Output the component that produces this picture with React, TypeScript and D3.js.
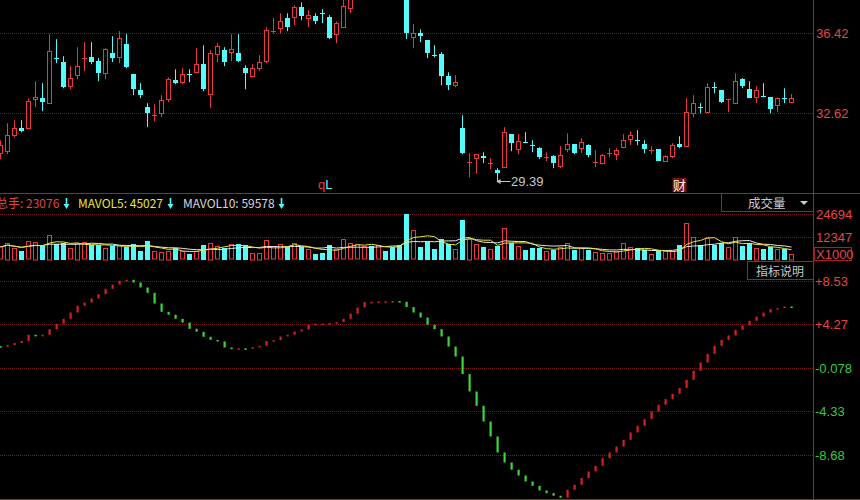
import React from 'react';
import * as d3 from 'd3';

const opens = [
  30.73, 30.83, 31.59, 31.92, 31.92, 33.30, 33.35, 33.11, 35.27, 35.06,
  33.92, 34.44, 35.23, 35.29, 35.10, 34.53, 35.48, 35.29, 35.91, 34.49,
  33.73, 32.92, 32.52, 32.63, 33.30, 34.20, 34.11, 34.50, 34.58, 34.96,
  33.54, 35.44, 35.63, 35.53, 35.48, 34.77, 34.39, 34.77, 35.10, 36.51,
  36.67, 37.15, 37.19, 37.67, 37.15, 37.24, 37.40, 37.19, 36.39, 36.72,
  37.62, 38.15, 38.55, 39.05, 38.85, 39.30, 39.10, 38.70, 38.30, 36.24,
  36.43, 36.10, 35.41, 35.44, 34.39, 33.96, 31.92, 30.29, 30.50, 30.59,
  30.24, 29.93, 30.07, 31.64, 30.92, 31.28, 31.13, 30.97, 30.52, 30.59,
  30.12, 30.92, 31.16, 30.97, 31.11, 30.29, 30.26, 30.71, 30.69, 31.02,
  31.40, 31.37, 31.16, 30.86, 30.92, 30.35, 30.59, 31.16, 31.07, 32.63,
  32.94, 32.68, 33.89, 33.73, 33.28, 33.11, 34.25, 33.77, 33.39, 33.46,
  33.39, 33.01, 33.37, 33.16,
];
const closes = [
  31.11, 31.59, 31.92, 31.78, 33.20, 33.39, 33.16, 35.58, 35.23, 33.87,
  34.30, 34.87, 35.27, 35.06, 34.53, 35.67, 35.25, 36.20, 34.82, 33.77,
  33.49, 32.63, 32.56, 33.25, 34.25, 34.06, 34.49, 34.47, 34.96, 33.77,
  35.48, 35.82, 35.06, 35.67, 35.10, 34.53, 34.77, 35.06, 36.58, 36.55,
  37.00, 36.72, 37.67, 37.24, 37.29, 37.00, 37.37, 36.20, 36.91, 37.72,
  38.15, 38.60, 39.00, 38.85, 39.30, 39.10, 38.70, 38.35, 36.43, 36.43,
  36.29, 35.48, 35.38, 34.39, 33.96, 34.11, 30.73, 30.33, 30.69, 30.50,
  30.28, 29.78, 31.73, 31.21, 31.30, 31.25, 31.10, 30.54, 30.55, 30.26,
  30.64, 31.16, 30.73, 31.26, 30.64, 30.33, 30.64, 30.75, 30.88, 31.35,
  31.59, 31.33, 30.92, 30.90, 30.35, 30.59, 31.11, 31.02, 32.68, 33.11,
  32.90, 33.87, 33.85, 33.16, 33.32, 34.15, 33.92, 33.35, 33.73, 33.42,
  32.82, 33.35, 33.33, 33.35,
];
const highs = [
  31.35, 32.16, 32.30, 32.30, 33.35, 34.15, 34.06, 36.39, 36.15, 35.34,
  34.87, 35.77, 36.01, 36.01, 35.25, 35.72, 36.29, 36.53, 36.39, 34.49,
  34.06, 33.11, 33.06, 33.49, 34.34, 34.72, 34.77, 34.72, 35.72, 35.86,
  35.63, 35.96, 35.77, 36.39, 36.39, 34.91, 34.96, 35.39, 36.72, 37.15,
  37.38, 37.38, 37.76, 37.90, 37.53, 37.38, 37.57, 37.30, 37.00, 38.10,
  38.40, 38.80, 39.10, 39.20, 39.45, 39.50, 39.20, 38.80, 38.40, 36.86,
  36.62, 36.10, 35.86, 35.53, 34.58, 34.44, 32.54, 30.73, 30.69, 30.78,
  30.50, 30.02, 31.97, 31.64, 31.64, 31.73, 31.35, 31.02, 30.78, 30.64,
  31.07, 31.68, 31.16, 31.45, 31.16, 30.88, 30.69, 30.97, 30.97, 31.64,
  31.78, 31.83, 31.35, 31.07, 30.92, 30.64, 31.21, 31.54, 33.35, 33.49,
  33.11, 34.06, 34.11, 33.73, 33.32, 34.53, 34.30, 34.15, 33.92, 34.06,
  33.39, 33.39, 33.82, 33.54,
];
const lows = [
  30.45, 30.69, 31.49, 31.73, 31.92, 32.92, 32.73, 33.11, 35.01, 33.82,
  33.77, 34.25, 34.63, 34.96, 34.15, 34.25, 35.06, 35.01, 34.77, 33.49,
  33.35, 31.97, 32.25, 32.44, 33.16, 34.01, 34.01, 34.11, 34.53, 33.68,
  32.87, 35.06, 34.87, 35.10, 35.06, 33.77, 34.34, 34.63, 35.01, 36.43,
  36.43, 36.53, 36.81, 37.05, 36.72, 36.86, 36.91, 36.15, 35.96, 36.67,
  37.38, 38.10, 38.45, 38.75, 38.80, 39.00, 38.60, 38.25, 36.15, 35.72,
  36.01, 35.25, 35.29, 33.96, 33.73, 33.87, 30.69, 29.59, 29.78, 30.26,
  29.97, 29.39, 30.07, 30.83, 30.69, 31.21, 30.78, 30.45, 30.35, 30.02,
  30.02, 30.78, 30.69, 30.73, 30.54, 30.07, 30.21, 30.54, 30.40, 30.97,
  31.11, 31.11, 30.73, 30.69, 30.35, 30.35, 30.50, 30.97, 31.07, 32.44,
  32.63, 32.68, 33.58, 33.11, 32.68, 33.11, 33.82, 33.35, 33.11, 33.39,
  32.63, 32.68, 33.11, 33.16,
];
const volumes = [
  6980, 8970, 6280, 4990, 9830, 9500, 7680, 13420, 8590, 8970,
  5910, 8970, 9290, 8060, 8060, 6280, 7680, 7520, 7140, 8590,
  4990, 10040, 4460, 4130, 4830, 6280, 4460, 3060, 4460, 8060,
  8970, 7140, 6610, 8060, 8590, 8060, 3600, 3600, 10200, 7140,
  8060, 7140, 8590, 7140, 5370, 3220, 3920, 8060, 5370, 10740,
  8590, 8060, 7140, 7680, 7680, 4830, 7140, 8060, 24540, 15570,
  7140, 9500, 5910, 11280, 8590, 5370, 21480, 11120, 8060, 7140,
  5370, 7680, 16810, 8970, 7140, 5370, 6610, 6610, 4830, 5370,
  6610, 8970, 5370, 6280, 5370, 4130, 3600, 3600, 4460, 8590,
  6610, 6280, 5370, 3060, 4990, 4460, 4460, 8060, 19710, 12190,
  8060, 11650, 8060, 9290, 6610, 12190, 7680, 8970, 6280, 5750,
  7140, 5750, 5910, 3060,
];
const indicator = [
  2.14, 2.24, 2.44, 2.64, 3.26, 3.23, 3.26, 3.82, 4.35, 4.84,
  5.46, 6.13, 6.45, 6.85, 7.28, 7.81, 8.23, 8.60, 8.70, 8.43,
  7.94, 7.41, 6.35, 5.53, 5.24, 4.84, 4.47, 3.85, 3.56, 3.06,
  2.76, 2.60, 2.00, 1.90, 1.92, 1.88, 2.03, 2.17, 2.64, 2.73,
  3.09, 3.26, 3.58, 3.78, 4.25, 4.35, 4.37, 4.42, 4.52, 4.84,
  5.34, 5.96, 6.49, 6.52, 6.55, 6.59, 6.60, 6.52, 6.00, 5.46,
  4.97, 4.25, 3.82, 3.09, 2.10, 1.11, -0.63, -2.35, -3.76, -5.32,
  -6.80, -8.38, -9.37, -10.09, -10.66, -11.25, -11.68, -12.14, -12.40, -12.66,
  -12.86, -12.07, -11.58, -10.91, -10.26, -9.70, -8.94, -8.38, -7.79, -7.13,
  -6.40, -5.74, -5.08, -4.33, -3.66, -3.10, -2.58, -2.01, -1.19, -0.30,
  0.52, 1.38, 2.17, 2.76, 3.19, 3.75, 4.18, 4.64, 5.07, 5.46,
  5.80, 5.90, 6.06, 6.04,
];
const priceTicks = [36.42, 32.62];
const priceTickLabels = ['36.42', '32.62'];
const volTicks = [24694, 12347];
const volTickLabels = ['24694', '12347'];
const indTicks = [8.53, 4.27, -0.078, -4.33, -8.68];
const indTickLabels = ['+8.53', '+4.27', '-0.078', '-4.33', '-8.68'];
const legendItems = [
  { label: '总手: 23076', color: '#e04545', x: -4, arrowX: 66.5 },
  { label: 'MAVOL5: 45027', color: '#e6e63c', x: 78, arrowX: 170.5 },
  { label: 'MAVOL10: 59578', color: '#d8d8d8', x: 183, arrowX: 281.5 },
];
const lowLabel = '29.39';
const lowIndex = 71;

const RED = '#e83a3a';
const CYAN = '#54fcfc';
const GRID = '#7a1818';
const AXIS = '#a82020';
const LBL_RED = '#e04848';
const LBL_GREEN = '#3cc83c';
const IND_RED = '#d82020';
const IND_GREEN = '#38d838';
const FONT = '"Liberation Sans", Arial, sans-serif';
const CJK = '"Noto Sans CJK SC", "Liberation Sans", sans-serif';

const W = 860;
const H = 500;
const AX = 813.5;

export default function App() {
  const n = opens.length;
  const x = d3.scaleLinear().domain([0, n - 1]).range([0.5, 0.5 + 7 * (n - 1)]);
  const yP = d3.scaleLinear().domain([32.62, 36.42]).range([113.5, 33.5]);
  const yV = d3.scaleLinear().domain([0, 24694]).range([260, 214]);
  const yI = d3.scaleLinear().domain([-8.68, 8.53]).range([455.5, 281.5]);

  const ma = (k: number) =>
    volumes.map((_, i) => d3.mean(volumes.slice(Math.max(0, i - k + 1), i + 1)) as number);
  const ma5 = ma(5);
  const ma10 = ma(10);
  const volLine = d3
    .line<number>()
    .x((_, i) => x(i))
    .y((d) => yV(d));

  const snap = (v: number) => Math.round(v - 0.5) + 0.5;

  const candles = opens.map((o, i) => {
    const c = closes[i];
    const cx = x(i);
    const up = c >= o;
    const top = yP(Math.max(o, c));
    const bot = yP(Math.min(o, c));
    const hy = yP(highs[i]);
    const ly = yP(lows[i]);
    const bh = bot - top;
    if (up) {
      if (bh < 1.5) {
        return (
          <g key={i}>
            <line x1={cx} x2={cx} y1={hy} y2={ly} stroke={RED} strokeWidth={1} />
            <rect x={cx - 2.5} y={Math.round(top)} width={5} height={1} fill={RED} />
          </g>
        );
      }
      return (
        <g key={i}>
          <line x1={cx} x2={cx} y1={hy} y2={top} stroke={RED} strokeWidth={1} />
          <line x1={cx} x2={cx} y1={bot} y2={ly} stroke={RED} strokeWidth={1} />
          <rect x={cx - 2} y={snap(top)} width={4} height={Math.max(1, Math.round(bh))} fill="#000" stroke={RED} strokeWidth={1} />
        </g>
      );
    }
    return (
      <g key={i}>
        <line x1={cx} x2={cx} y1={hy} y2={ly} stroke={CYAN} strokeWidth={1} />
        <rect x={cx - 2.5} y={Math.round(top)} width={5} height={Math.max(1, Math.round(bh))} fill={CYAN} />
      </g>
    );
  });

  const volBars = volumes.map((v, i) => {
    const cx = x(i);
    const up = closes[i] >= opens[i];
    const t = yV(v);
    if (up) {
      return (
        <rect key={i} x={cx - 2} y={snap(t)} width={4} height={Math.round(260 - t) - 0.5} fill="none" stroke={RED} strokeWidth={1} />
      );
    }
    return <rect key={i} x={cx - 2.5} y={Math.round(t)} width={5} height={260 - Math.round(t)} fill={CYAN} />;
  });

  const indBars = indicator.map((v, i) => {
    const prev = i === 0 ? v : indicator[i - 1];
    const y1 = yI(prev);
    const y2 = yI(v);
    const up = v > prev;
    const top = Math.min(y1, y2);
    const h = Math.max(Math.abs(y2 - y1), 1.6);
    return <rect key={i} x={x(i) - 1} y={top} width={2.2} height={h} fill={up ? IND_RED : IND_GREEN} />;
  });

  const gridLine = (y: number, key: string, x2 = AX) => (
    <line key={key} x1={0} x2={x2} y1={snap(y)} y2={snap(y)} stroke={GRID} strokeWidth={1} strokeDasharray="1,1" />
  );

  const lowX = x(lowIndex);
  const lowY = yP(lows[lowIndex]);

  return (
    <svg
      width={W}
      height={H}
      style={{ position: 'absolute', left: 0, top: 0, background: '#000', display: 'block' }}
    >
      <rect x={0} y={0} width={W} height={H} fill="#000" />
      <defs>
        <clipPath id="mainClip">
          <rect x={0} y={0} width={AX} height={193} />
        </clipPath>
      </defs>

      {/* grids */}
      {priceTicks.map((t, i) => gridLine(yP(t), 'pg' + i))}
      {volTicks.map((t, i) => gridLine(yV(t), 'vg' + i))}
      {indTicks.map((t, i) => gridLine(yI(t), 'ig' + i))}

      {/* candles */}
      <g clipPath="url(#mainClip)">{candles}</g>

      {/* low annotation */}
      <g>
        <path d={`M${lowX - 1},${lowY} L${lowX + 3},${lowY - 2.5} L${lowX + 3},${lowY + 2.5} Z`} fill="#c8c8c8" />
        <line x1={lowX + 2} x2={lowX + 13} y1={lowY} y2={lowY} stroke="#c8c8c8" strokeWidth={1} />
        <text x={lowX + 13.5} y={lowY + 4.5} fill="#c8c8c8" fontSize={13} fontFamily={FONT}>
          {lowLabel}
        </text>
      </g>

      {/* markers */}
      <text x={318} y={189} fontSize={13} fontFamily={FONT}>
        <tspan fill={RED}>q</tspan>
        <tspan fill={CYAN}>L</tspan>
      </text>
      <rect x={672.5} y={178} width={14} height={14} fill="#7a1010" />
      <text x={673} y={189.5} fontSize={13} fontFamily={CJK} fill="#f0f0f0">
        财
      </text>

      {/* volume panel */}
      {volBars}
      <path d={volLine(ma10) || ''} fill="none" stroke="#e8e8e8" strokeWidth={1} />
      <path d={volLine(ma5) || ''} fill="none" stroke="#e6e63c" strokeWidth={1} />

      {/* indicator */}
      {indBars}

      {/* separators & axis */}
      <line x1={0} x2={W} y1={193.5} y2={193.5} stroke={AXIS} strokeWidth={1} />
      <line x1={0} x2={W} y1={499.5} y2={499.5} stroke={AXIS} strokeWidth={1} />
      <line x1={AX} x2={AX} y1={0} y2={H} stroke={AXIS} strokeWidth={1} />

      {/* legend row */}
      {legendItems.map((it, i) => (
        <g key={'lg' + i}>
          <text x={it.x} y={207.5} fill={it.color} fontSize={12} fontFamily={CJK}>
            {it.label}
          </text>
          <line x1={it.arrowX} x2={it.arrowX} y1={198} y2={205} stroke={CYAN} strokeWidth={1.6} />
          <path d={`M${it.arrowX - 3},${204} L${it.arrowX + 3},${204} L${it.arrowX},${209} Z`} fill={CYAN} />
        </g>
      ))}

      {/* 成交量 box */}
      <rect x={721.5} y={193.5} width={AX - 721.5} height={18} fill="#000" stroke={AXIS} strokeWidth={1} />
      <text x={748} y={207.5} fill="#c8c8c8" fontSize={12.5} fontFamily={CJK}>
        成交量
      </text>
      <path d="M800,201 L808,201 L804,205 Z" fill="#c8c8c8" />

      {/* 指标说明 box */}
      <rect x={747.5} y={261.5} width={AX - 747.5} height={18} fill="#000" stroke={AXIS} strokeWidth={1} />
      <text x={756} y={275.5} fill="#c8c8c8" fontSize={12} fontFamily={CJK}>
        指标说明
      </text>

      {/* right axis labels */}
      {priceTicks.map((t, i) => (
        <text key={'pl' + i} x={816} y={yP(t) + 4.5} fill={LBL_RED} fontSize={13} fontFamily={FONT}>
          {priceTickLabels[i]}
        </text>
      ))}
      {volTicks.map((t, i) => (
        <text key={'vl' + i} x={816} y={yV(t) + 4.5} fill={LBL_RED} fontSize={13} fontFamily={FONT}>
          {volTickLabels[i]}
        </text>
      ))}
      <rect x={814.5} y={247.5} width={37} height={13} fill="none" stroke={AXIS} strokeWidth={1} />
      <text x={816} y={258.5} fill={LBL_RED} fontSize={13} fontFamily={FONT}>
        X1000
      </text>
      {indTicks.map((t, i) => (
        <text
          key={'il' + i}
          x={815}
          y={yI(t) + 4.5}
          fill={t > 0 ? LBL_RED : LBL_GREEN}
          fontSize={13}
          fontFamily={FONT}
        >
          {indTickLabels[i]}
        </text>
      ))}
    </svg>
  );
}
